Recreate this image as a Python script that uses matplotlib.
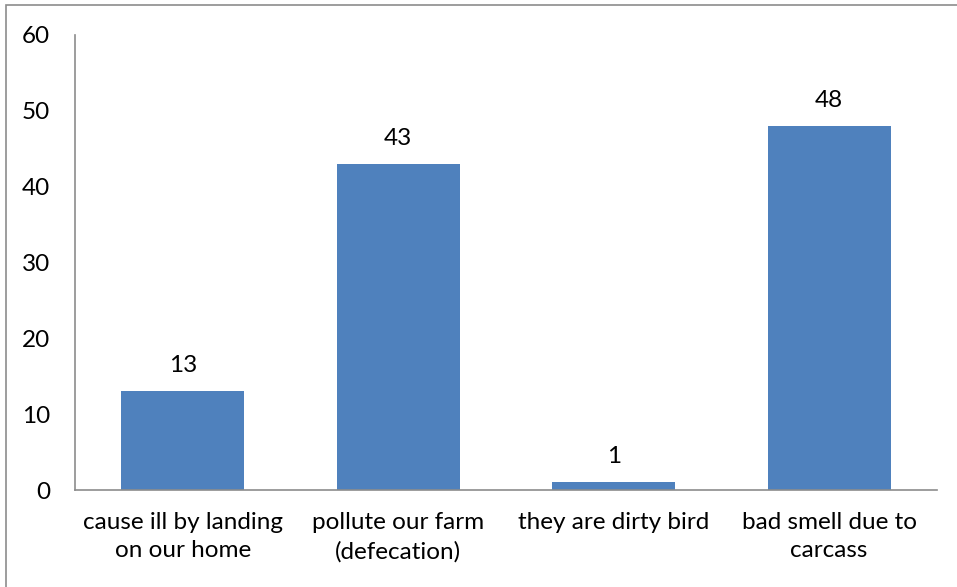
import matplotlib
matplotlib.use("Agg")
import matplotlib.pyplot as plt
from matplotlib.patches import Rectangle

categories = ["cause ill by landing\non our home", "pollute our farm\n(defecation)",
              "they are dirty bird", "bad smell due to\ncarcass"]
values = [13, 43, 1, 48]
yticks = [0, 10, 20, 30, 40, 50, 60]

plt.rcParams['font.family'] = ['Lato', 'DejaVu Sans']
fs = 17.5

fig = plt.figure(figsize=(9.57, 5.87), dpi=100)
ax = fig.add_axes([0.0784, 0.1652, 0.9006, 0.7752])

x = range(len(values))
ax.bar(x, values, width=0.57, color="#4F81BD")
for xi, v in zip(x, values):
    ax.text(xi, v + 2.0, str(v), ha="center", va="bottom", fontsize=fs)

ax.set_xlim(-0.5, len(values) - 0.5)
ax.set_ylim(0, 60)
ax.set_yticks(yticks)
ax.set_xticks(list(x))
ax.set_xticklabels(categories, fontsize=fs, linespacing=1.42)
ax.tick_params(axis="both", length=0, labelsize=fs)
ax.tick_params(axis="y", pad=18)
ax.tick_params(axis="x", pad=16)

for s in ["top", "right"]:
    ax.spines[s].set_visible(False)
for s in ["left", "bottom"]:
    ax.spines[s].set_color("#8c8c8c")
    ax.spines[s].set_linewidth(1.2)

# outer chart frame
fig.patches.append(Rectangle((6 / 957, -0.05), 1.1, 1 - 5 / 587 + 0.05,
                             transform=fig.transFigure, fill=False,
                             edgecolor="#8c8c8c", linewidth=1.2))

fig.savefig("out.png", dpi=100)
